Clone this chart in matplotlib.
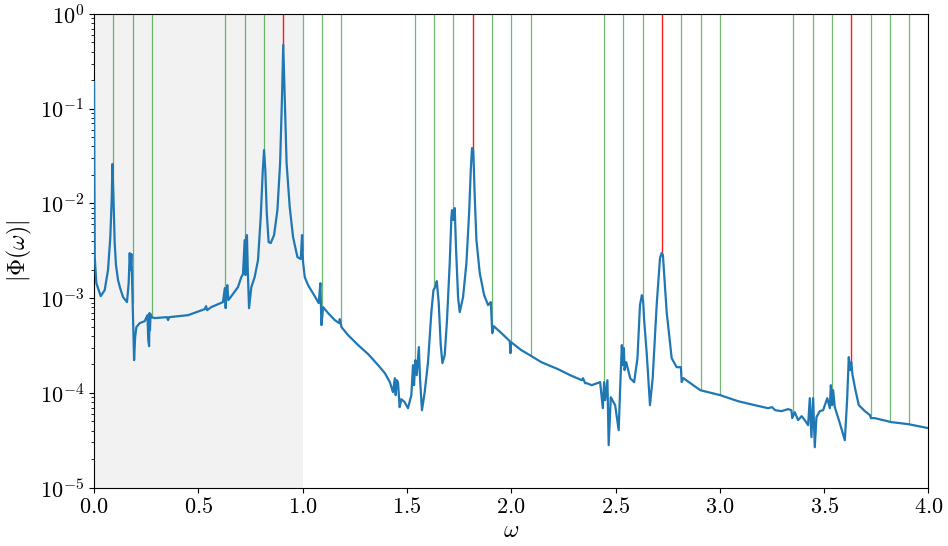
import numpy as np
import matplotlib
matplotlib.use("Agg")
import matplotlib.pyplot as plt

plt.rcParams['font.family'] = 'serif'
plt.rcParams['font.serif'] = ['cmr10', 'DejaVu Serif']
plt.rcParams['mathtext.fontset'] = 'cm'
plt.rcParams['axes.formatter.use_mathtext'] = True
plt.rcParams['font.size'] = 16

# spectrum |Phi(omega)| (omega, log10|Phi|)
omega = [0.000, 0.0014, 0.0034, 0.011, 0.032, 0.051, 0.067, 0.078, 0.085, 0.088,
         0.093, 0.099, 0.105, 0.115, 0.125, 0.139, 0.158, 0.166, 0.171, 0.175,
         0.179, 0.182,
         0.187, 0.192, 0.197, 0.203, 0.219, 0.243, 0.256, 0.260, 0.264, 0.266,
         0.268, 0.271, 0.275, 0.291, 0.350, 0.355, 0.360, 0.451, 0.531, 0.537,
         0.542, 0.562, 0.618, 0.627, 0.631, 0.635, 0.639, 0.644, 0.655, 0.690,
         0.706, 0.714, 0.722, 0.726, 0.730, 0.733, 0.737, 0.743, 0.754, 0.770,
         0.786, 0.799, 0.809, 0.815, 0.821, 0.828, 0.837, 0.847, 0.863, 0.879,
         0.892, 0.901, 0.907, 0.914, 0.923, 0.938, 0.954, 0.975, 0.991, 0.997,
         1.002, 1.010, 1.026, 1.055, 1.077, 1.085, 1.090, 1.098, 1.122, 1.154,
         1.175, 1.178, 1.186, 1.218, 1.266, 1.314, 1.362, 1.394, 1.418, 1.433,
         1.442, 1.446, 1.451, 1.457, 1.465, 1.473, 1.489, 1.505, 1.521, 1.529,
         1.534, 1.540, 1.547, 1.557, 1.563, 1.572, 1.585, 1.601, 1.617, 1.627,
         1.633, 1.638, 1.643, 1.652, 1.662, 1.670, 1.681, 1.692, 1.705, 1.713,
         1.716, 1.722, 1.729, 1.735, 1.745, 1.753, 1.769, 1.785, 1.798, 1.806,
         1.812, 1.818, 1.825, 1.833, 1.849, 1.870, 1.889, 1.902, 1.909, 1.916,
         1.953, 1.993, 1.996, 1.999, 2.048, 2.089, 2.144, 2.224, 2.282, 2.338,
         2.344, 2.354, 2.362, 2.386, 2.426, 2.439, 2.445, 2.450, 2.461, 2.467,
         2.477, 2.498, 2.515, 2.522, 2.530, 2.535, 2.540, 2.543, 2.551, 2.570,
         2.589, 2.605, 2.617, 2.626, 2.632, 2.637, 2.650, 2.665, 2.678, 2.697,
         2.713, 2.721, 2.727, 2.735, 2.745, 2.769, 2.793, 2.813, 2.817, 2.825,
         2.906, 3.001, 3.087, 3.167, 3.231, 3.250, 3.265, 3.295, 3.327, 3.343,
         3.347, 3.359, 3.375, 3.392, 3.407, 3.423, 3.431, 3.439, 3.447, 3.455,
         3.463, 3.479, 3.495, 3.515, 3.527, 3.532, 3.538, 3.543, 3.551, 3.575,
         3.599, 3.610, 3.618, 3.624, 3.630, 3.636, 3.650, 3.666, 3.695, 3.720,
         3.724, 3.743, 3.822, 3.902, 4.000]
log_phi = [-0.718, -1.647, -2.566, -2.841, -2.978, -2.915, -2.703, -2.355, -1.932, -1.584,
           -1.932, -2.418, -2.647, -2.809, -2.893, -2.988, -3.041, -2.841, -2.524, -2.703,
           -2.534, -2.777,
           -3.231, -3.654, -3.411, -3.305, -3.263, -3.242, -3.179, -3.443, -3.506, -3.157,
           -3.337, -3.168, -3.200, -3.210, -3.200, -3.231, -3.200, -3.179, -3.115, -3.084,
           -3.126, -3.094, -3.041, -2.893, -3.105, -2.915, -2.862, -3.020, -2.988, -2.883,
           -2.777, -2.746, -2.387, -2.756, -2.355, -2.334, -2.703, -3.105, -2.883, -2.777,
           -2.598, -2.144, -1.647, -1.436, -1.647, -2.101, -2.408, -2.418, -2.334, -2.070,
           -1.573, -0.876, -0.327, -0.876, -1.573, -2.038, -2.355, -2.566, -2.587, -2.334,
           -2.619, -2.777, -2.862, -2.968, -3.052, -2.841, -3.284, -3.094, -3.157, -3.231,
           -3.263, -3.221, -3.305, -3.390, -3.495, -3.590, -3.707, -3.791, -3.886, -3.992,
           -3.844, -4.023, -3.865, -3.886, -4.150, -4.066, -4.097, -4.161, -4.023, -3.707,
           -3.918, -3.654, -3.812, -3.516, -3.865, -4.182, -3.992, -3.675, -3.147, -2.915,
           -2.893, -2.862, -2.820, -3.041, -3.495, -3.685, -3.601, -3.231, -2.629, -2.144,
           -2.070, -2.175, -2.049, -2.461, -2.988, -3.147, -2.988, -2.629, -2.101, -1.647,
           -1.415, -1.436, -1.932, -2.387, -2.735, -2.968, -3.073, -3.041, -3.369, -3.295,
           -3.369, -3.453, -3.580, -3.464, -3.548, -3.601, -3.675, -3.749, -3.812, -3.865,
           -3.844, -3.897, -3.897, -3.918, -3.886, -4.161, -3.886, -4.076, -3.865, -4.551,
           -4.045, -4.129, -4.393, -3.949, -3.495, -3.707, -3.527, -3.759, -3.675, -3.844,
           -3.886, -3.633, -3.073, -2.968, -3.020, -3.231, -3.601, -4.129, -3.844, -3.073,
           -2.577, -2.524, -2.545, -2.809, -3.147, -3.633, -3.728, -3.728, -3.886, -3.844,
           -3.971, -4.023, -4.087, -4.129, -4.161, -4.150, -4.182, -4.192, -4.171, -4.182,
           -4.266, -4.203, -4.287, -4.245, -4.287, -4.340, -4.055, -4.467, -4.055, -4.573,
           -4.256, -4.192, -4.182, -4.055, -4.161, -3.918, -4.129, -3.971, -4.150, -4.319,
           -4.499, -4.076, -3.622, -3.759, -3.675, -3.812, -3.971, -4.129, -4.192, -4.235,
           -4.266, -4.266, -4.308, -4.329, -4.372]

# marker frequencies
red_lines = [0.9075, 1.815, 2.7225, 3.630]
green_lines = [0.093, 0.185, 0.278,
               0.630, 0.722, 0.815, 1.000, 1.093, 1.185,
               1.537, 1.630, 1.722, 1.908, 2.000, 2.093,
               2.445, 2.537, 2.630, 2.815, 2.908, 3.000,
               3.352, 3.445, 3.537, 3.723, 3.815, 3.908]
shade_range = (0.0, 1.0)

fig = plt.figure(figsize=(9.48, 5.46), dpi=100)
ax = fig.add_axes([0.0992, 0.1068, 0.8802, 0.8676])

ax.axvspan(*shade_range, color='0.95', zorder=0, lw=0)

om = np.array(omega)
lp = np.array(log_phi)
phi = 10.0 ** lp

g_bottom = 10.0 ** np.interp(green_lines, om, lp)
r_bottom = 10.0 ** np.interp(red_lines, om, lp)
ax.vlines(green_lines, g_bottom, 1.0, color='green', alpha=0.55, lw=0.9, zorder=1)
ax.vlines(red_lines, r_bottom, 1.0, color='red', alpha=0.9, lw=1.0, zorder=1)

ax.semilogy(om, phi, color='tab:blue', lw=1.6, zorder=3)

ax.set_xlim(0, 4)
ax.set_ylim(1e-5, 1)
ax.set_xticks([0.0, 0.5, 1.0, 1.5, 2.0, 2.5, 3.0, 3.5, 4.0])
ax.set_xlabel(r'$\omega$', fontsize=17, labelpad=2)
ax.set_ylabel(r'$|\Phi(\omega)|$', fontsize=17, labelpad=4)

fig.savefig('out.png', dpi=100)
